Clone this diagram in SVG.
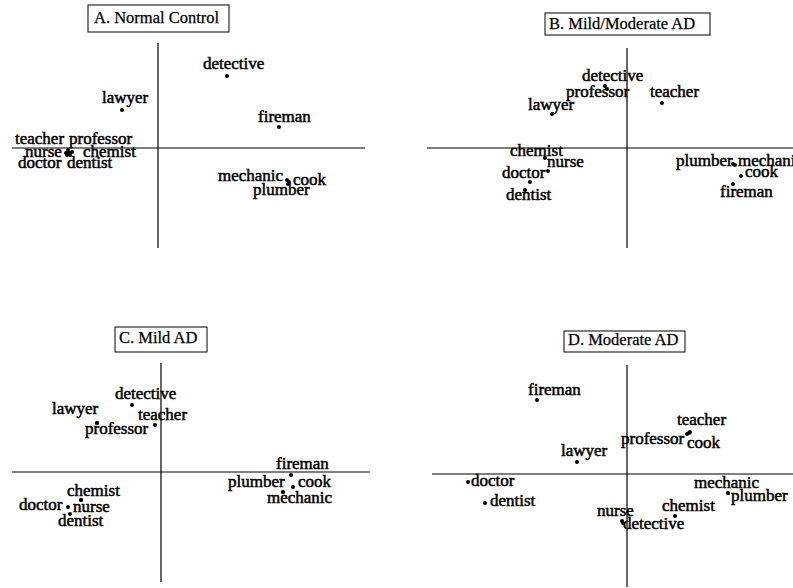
<svg xmlns="http://www.w3.org/2000/svg" width="793" height="588" viewBox="0 0 793 588">
<style>
text{font-family:"Liberation Serif","Times New Roman",serif;fill:#000}
.lbl{font-size:17px;stroke:#000;stroke-width:0.5}
.ttl{font-size:16.5px;stroke:#000;stroke-width:0.25}
.box{fill:#fff;stroke:#000;stroke-width:1}
.ax{stroke:#000;stroke-width:1.2;fill:none}
circle{fill:#000}
</style>
<rect width="793" height="588" fill="#fff"/>
<!-- Panel A -->
<g id="panelA">
 <g id="A-title"><rect class="box" x="88" y="5" width="141" height="27"/><text class="ttl" x="94" y="23">A. Normal Control</text></g>
 <g id="A-axes"><line class="ax" x1="158" y1="43" x2="158" y2="248"/><line class="ax" x1="12" y1="148" x2="365" y2="148"/></g>
 <g id="A-detective"><circle cx="227" cy="76" r="2"/><text class="lbl" x="203" y="69">detective</text></g>
 <g id="A-lawyer"><circle cx="122" cy="110" r="2"/><text class="lbl" x="102" y="103">lawyer</text></g>
 <g id="A-fireman"><circle cx="279" cy="127" r="2"/><text class="lbl" x="258" y="122">fireman</text></g>
 <g id="A-teacher"><circle cx="68" cy="150" r="2"/><text class="lbl" x="15" y="144">teacher</text></g>
 <g id="A-professor"><circle cx="72" cy="152" r="2"/><text class="lbl" x="69" y="144">professor</text></g>
 <g id="A-nurse"><circle cx="66" cy="153" r="2"/><text class="lbl" x="25" y="157">nurse</text></g>
 <g id="A-chemist"><circle cx="70" cy="155" r="2"/><text class="lbl" x="83" y="157">chemist</text></g>
 <g id="A-doctor"><circle cx="67" cy="155" r="2"/><text class="lbl" x="18" y="168">doctor</text></g>
 <g id="A-dentist"><circle cx="69" cy="153" r="2"/><text class="lbl" x="67" y="168">dentist</text></g>
 <g id="A-mechanic"><circle cx="287" cy="180" r="2"/><text class="lbl" x="218" y="181">mechanic</text></g>
 <g id="A-cook"><circle cx="289" cy="182" r="2"/><text class="lbl" x="293" y="185">cook</text></g>
 <g id="A-plumber"><circle cx="288" cy="184" r="2"/><text class="lbl" x="253" y="195">plumber</text></g>
</g>
<!-- Panel B -->
<g id="panelB">
 <g id="B-title"><rect class="box" x="545" y="13" width="165" height="22"/><text class="ttl" x="549" y="29">B. Mild/Moderate AD</text></g>
 <g id="B-axes"><line class="ax" x1="627" y1="48" x2="627" y2="248"/><line class="ax" x1="427" y1="148" x2="793" y2="148"/></g>
 <g id="B-detective"><circle cx="605" cy="86" r="2"/><text class="lbl" x="582" y="81">detective</text></g>
 <g id="B-professor"><circle cx="607" cy="89" r="2"/><text class="lbl" x="566" y="97">professor</text></g>
 <g id="B-teacher"><circle cx="662" cy="103" r="2"/><text class="lbl" x="650" y="97">teacher</text></g>
 <g id="B-lawyer"><circle cx="552" cy="114" r="2"/><text class="lbl" x="528" y="110">lawyer</text></g>
 <g id="B-chemist"><circle cx="545" cy="158" r="2"/><text class="lbl" x="510" y="156">chemist</text></g>
 <g id="B-nurse"><circle cx="548" cy="171" r="2"/><text class="lbl" x="547" y="167">nurse</text></g>
 <g id="B-doctor"><circle cx="530" cy="182" r="2"/><text class="lbl" x="502" y="178">doctor</text></g>
 <g id="B-dentist"><circle cx="525" cy="190" r="2"/><text class="lbl" x="506" y="200">dentist</text></g>
 <g id="B-plumber"><circle cx="733" cy="164" r="2"/><text class="lbl" x="676" y="166">plumber</text></g>
 <g id="B-mechanic"><circle cx="735" cy="165" r="2"/><text class="lbl" x="738" y="166">mechanic</text></g>
 <g id="B-cook"><circle cx="741" cy="176" r="2"/><text class="lbl" x="745" y="177">cook</text></g>
 <g id="B-fireman"><circle cx="733" cy="184" r="2"/><text class="lbl" x="720" y="197">fireman</text></g>
</g>
<!-- Panel C -->
<g id="panelC">
 <g id="C-title"><rect class="box" x="115" y="327" width="92" height="25"/><text class="ttl" x="119" y="343">C. Mild AD</text></g>
 <g id="C-axes"><line class="ax" x1="161" y1="363" x2="161" y2="582"/><line class="ax" x1="12" y1="472" x2="370" y2="472"/></g>
 <g id="C-detective"><circle cx="132" cy="405" r="2"/><text class="lbl" x="115" y="399">detective</text></g>
 <g id="C-lawyer"><circle cx="97" cy="423" r="2"/><text class="lbl" x="52" y="414">lawyer</text></g>
 <g id="C-teacher"><circle cx="155" cy="425" r="2"/><text class="lbl" x="138" y="420">teacher</text></g>
 <g id="C-professor"><circle cx="97" cy="423" r="2"/><text class="lbl" x="85" y="434">professor</text></g>
 <g id="C-fireman"><circle cx="291" cy="475" r="2"/><text class="lbl" x="276" y="469">fireman</text></g>
 <g id="C-plumber"><circle cx="283" cy="492" r="2"/><text class="lbl" x="228" y="487">plumber</text></g>
 <g id="C-cook"><circle cx="293" cy="487" r="2"/><text class="lbl" x="298" y="487">cook</text></g>
 <g id="C-mechanic"><circle cx="283" cy="492" r="2"/><text class="lbl" x="267" y="503">mechanic</text></g>
 <g id="C-chemist"><circle cx="81" cy="500" r="2"/><text class="lbl" x="67" y="496">chemist</text></g>
 <g id="C-doctor"><circle cx="68" cy="507" r="2"/><text class="lbl" x="19" y="510">doctor</text></g>
 <g id="C-nurse"><circle cx="81" cy="500" r="2"/><text class="lbl" x="73" y="512">nurse</text></g>
 <g id="C-dentist"><circle cx="70" cy="514" r="2"/><text class="lbl" x="58" y="526">dentist</text></g>
</g>
<!-- Panel D -->
<g id="panelD">
 <g id="D-title"><rect class="box" x="564" y="331" width="121" height="21"/><text class="ttl" x="568" y="345">D. Moderate AD</text></g>
 <g id="D-axes"><line class="ax" x1="627" y1="365" x2="627" y2="587"/><line class="ax" x1="432" y1="474" x2="793" y2="474"/></g>
 <g id="D-fireman"><circle cx="537" cy="400" r="2"/><text class="lbl" x="528" y="395">fireman</text></g>
 <g id="D-teacher"><circle cx="690" cy="432" r="2"/><text class="lbl" x="677" y="425">teacher</text></g>
 <g id="D-professor"><circle cx="687" cy="434" r="2"/><text class="lbl" x="621" y="444">professor</text></g>
 <g id="D-cook"><circle cx="689" cy="433" r="2"/><text class="lbl" x="687" y="448">cook</text></g>
 <g id="D-lawyer"><circle cx="577" cy="462" r="2"/><text class="lbl" x="561" y="456">lawyer</text></g>
 <g id="D-doctor"><circle cx="468" cy="482" r="2"/><text class="lbl" x="471" y="486">doctor</text></g>
 <g id="D-dentist"><circle cx="485" cy="503" r="2"/><text class="lbl" x="490" y="506">dentist</text></g>
 <g id="D-mechanic"><circle cx="728" cy="493" r="2"/><text class="lbl" x="694" y="488">mechanic</text></g>
 <g id="D-plumber"><circle cx="728" cy="493" r="2"/><text class="lbl" x="731" y="501">plumber</text></g>
 <g id="D-chemist"><circle cx="675" cy="516" r="2"/><text class="lbl" x="662" y="511">chemist</text></g>
 <g id="D-nurse"><circle cx="622" cy="521" r="2"/><text class="lbl" x="597" y="516">nurse</text></g>
 <g id="D-detective"><circle cx="623" cy="523" r="2"/><text class="lbl" x="623" y="529">detective</text></g>
</g>
</svg>
